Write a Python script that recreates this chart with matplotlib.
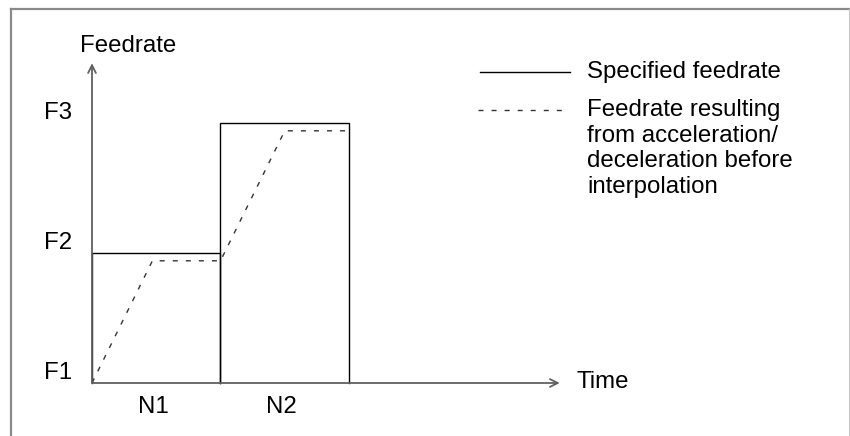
import matplotlib
matplotlib.use("Agg")
import matplotlib.pyplot as plt
from matplotlib.lines import Line2D

plt.rcParams['font.family'] = ['Liberation Sans', 'DejaVu Sans']
plt.rcParams['lines.scale_dashes'] = False

# blocks N1, N2: start/end time and specified feedrate level (F1=0, F2=1, F3=2)
block_labels = ['N1', 'N2']
block_start = [0.0, 1.0]
block_end = [1.0, 2.0]
block_feed = [1.0, 2.0]

# feedrate after acc/dec before interpolation
accdec_t = [0.0, 0.47, 1.0, 1.5, 2.0]
accdec_f = [0.0, 0.94, 0.94, 1.94, 1.94]

level_labels = ['F1', 'F2', 'F3']
level_values = [0.0, 1.0, 2.0]

axis_tmax = 3.64
axis_fmax = 2.46

FS = 17.3

W, H = 850, 436
fig = plt.figure(figsize=(W / 100, H / 100), dpi=100)
ax = fig.add_axes([0, 0, 1, 1])
ax.set_xlim(-92 / 128.5, (W - 92) / 128.5)
ax.set_ylim(-53 / 130, 383 / 130)
ax.axis('off')

# outer frame
fig.add_artist(Line2D([11 / W, 11 / W], [0, 1 - 9 / H], transform=fig.transFigure,
                      color='#8a8a8a', lw=1.6))
fig.add_artist(Line2D([11 / W, 1], [1 - 9 / H, 1 - 9 / H], transform=fig.transFigure,
                      color='#8a8a8a', lw=1.6))
fig.add_artist(Line2D([849 / W, 849 / W], [0, 1 - 9 / H], transform=fig.transFigure,
                      color='#c8c8c8', lw=0.8))

# axes with open arrows
axis_color = '#606060'
for end in [(0, axis_fmax), (axis_tmax, 0)]:
    ax.annotate('', xy=end, xytext=(0, 0),
                arrowprops=dict(arrowstyle='->', color=axis_color, lw=1.3,
                                shrinkA=0, shrinkB=0, mutation_scale=14))

# specified feedrate blocks
for s, e, f in zip(block_start, block_end, block_feed):
    ax.plot([s, s, e, e], [0, f, f, 0], color='black', lw=1.0, solid_joinstyle='miter')

# acc/dec feedrate
ax.plot(accdec_t, accdec_f, color='#333333', lw=1.0, linestyle=(0, (3.6, 5.8)))

# labels
ax.text(-12 / 128.5, axis_fmax + 17 / 130, 'Feedrate', fontsize=FS, ha='left', va='center')
for lab, v in zip(level_labels, level_values):
    ax.text(-20 / 128.5, v + 10 / 130, lab, fontsize=FS, ha='right', va='center')
for lab, s, e in zip(block_labels, block_start, block_end):
    ax.text((s + e) / 2 - 3 / 128.5, -24 / 130, lab, fontsize=FS, ha='center', va='center')
ax.text(axis_tmax + 17 / 128.5, 1 / 130, 'Time', fontsize=FS, ha='left', va='center')

# legend
fig.add_artist(Line2D([480 / W, 570 / W], [1 - 72 / H, 1 - 72 / H], transform=fig.transFigure,
                      color='black', lw=1.0))
fig.add_artist(Line2D([478 / W, 568 / W], [1 - 110 / H, 1 - 110 / H], transform=fig.transFigure,
                      color='#333333', lw=1.0, linestyle=(0, (3.6, 5.8))))
fig.text(587 / W, 1 - 72 / H, 'Specified feedrate', fontsize=FS, ha='left', va='center')
fig.text(587 / W, 1 - 99 / H,
         'Feedrate resulting\nfrom acceleration/\ndeceleration before\ninterpolation',
         fontsize=FS, ha='left', va='top', linespacing=1.22)

fig.savefig('out.png', dpi=100)
